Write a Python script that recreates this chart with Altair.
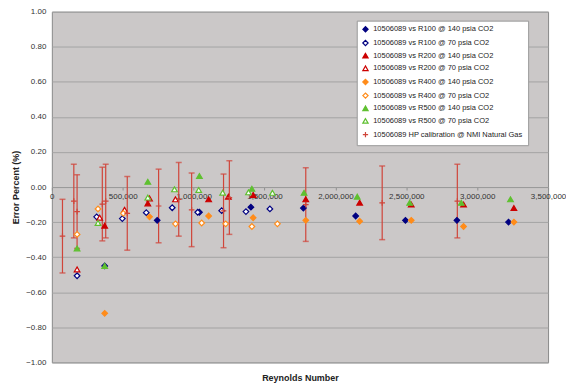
import altair as alt
import pandas as pd

series_names = [
    "10506089 vs R100 @ 140 psia CO2",
    "10506089 vs R100 @ 70 psia CO2",
    "10506089 vs R200 @ 140 psia CO2",
    "10506089 vs R200 @ 70 psia CO2",
    "10506089 vs R400 @ 140 psia CO2",
    "10506089 vs R400 @ 70 psia CO2",
    "10506089 vs R500 @ 140 psia CO2",
    "10506089 vs R500 @ 70 psia CO2",
    "10506089 HP calibration @ NMI Natural Gas",
]
stroke_colors = ["#000080", "#000080", "#cc0000", "#cc0000", "#ff8c1a", "#ff8c1a",
                 "#5fc030", "#5fc030", "#d0453a"]
fill_colors = ["#000080", "#ffffff", "#cc0000", "#ffffff", "#ff8c1a", "#ffffff",
               "#5fc030", "#ffffff", "transparent"]
shapes = ["diamond", "diamond", "triangle-up", "triangle-up", "diamond", "diamond",
          "triangle-up", "triangle-up", "M-1,0H1M0,-1V1"]

r100_140_re = [372700, 743000, 1041000, 1404000, 1774000, 2143000, 2494000, 2857000, 3221000]
r100_140_err = [-0.45, -0.19, -0.144, -0.115, -0.12, -0.165, -0.19, -0.19, -0.20]

r100_70_re = [178000, 316000, 497000, 666000, 849000, 1029000, 1198000, 1369000, 1538000]
r100_70_err = [-0.506, -0.17, -0.18, -0.146, -0.118, -0.144, -0.135, -0.14, -0.125]

r200_140_re = [372700, 677000, 1106000, 1245000, 1420000, 1791000, 2171000, 2535000, 2904000, 3259000]
r200_140_err = [-0.22, -0.093, -0.07, -0.055, -0.045, -0.07, -0.089, -0.10, -0.10, -0.12]

r200_70_re = [178000, 337500, 513000, 689000, 872000]
r200_70_err = [-0.47, -0.175, -0.13, -0.065, -0.07]

r400_140_re = [372700, 689000, 1106000, 1420000, 1791000, 2171000, 2535000, 2904000, 3259000]
r400_140_err = [-0.72, -0.17, -0.165, -0.175, -0.19, -0.195, -0.19, -0.225, -0.20]

r400_70_re = [178000, 325600, 504000, 872000, 1057000, 1226000, 1411000, 1591000]
r400_70_err = [-0.27, -0.125, -0.15, -0.21, -0.205, -0.21, -0.225, -0.21]

r500_140_re = [178000, 372700, 677000, 1041000, 1411000, 1779000, 2154000, 2524000, 2888000, 3235000]
r500_140_err = [-0.35, -0.45, 0.03, 0.0625, -0.01, -0.033, -0.055, -0.09, -0.09, -0.07]

r500_70_re = [325600, 677000, 865000, 1036000, 1205000, 1387000, 1556000]
r500_70_err = [-0.205, -0.06, -0.013, -0.017, -0.032, -0.03, -0.033]

nmi_re = [75000, 155000, 178000, 356000, 380000, 532000, 753000, 895000, 986000,
          1211000, 1252000, 1791000, 2330000, 2860000]
nmi_err = [-0.28, -0.08, -0.14, -0.097, -0.08, -0.15, -0.108, -0.07, -0.13,
           -0.136, -0.06, -0.10, -0.09, -0.08]
nmi_unc = [0.21, 0.21, 0.21, 0.21, 0.21, 0.21, 0.21, 0.21, 0.21,
           0.21, 0.21, 0.21, 0.21, 0.21]

x_ticks = [0, 500000, 1000000, 1500000, 2000000, 2500000, 3000000, 3500000]
y_ticks = [-1.0, -0.8, -0.6, -0.4, -0.2, 0.0, 0.2, 0.4, 0.6, 0.8, 1.0]

all_series = [
    (r100_140_re, r100_140_err), (r100_70_re, r100_70_err),
    (r200_140_re, r200_140_err), (r200_70_re, r200_70_err),
    (r400_140_re, r400_140_err), (r400_70_re, r400_70_err),
    (r500_140_re, r500_140_err), (r500_70_re, r500_70_err),
    (nmi_re, nmi_err),
]
rows = []
for name, (xs, ys) in zip(series_names, all_series):
    for xv, yv in zip(xs, ys):
        rows.append({"series": name, "re": xv, "err": yv})
pts = pd.DataFrame(rows)

bars = pd.DataFrame({
    "re": nmi_re,
    "lo": [e - u for e, u in zip(nmi_err, nmi_unc)],
    "hi": [e + u for e, u in zip(nmi_err, nmi_unc)],
})

FONT = "Liberation Sans"
W, H = 498, 352
bar_color = "#d0453a"

x_scale = alt.Scale(domain=[0, 3500000], nice=False)
y_scale = alt.Scale(domain=[-1, 1], nice=False)

x_axis = alt.Axis(values=x_ticks, format=",d", grid=False, offset=-H / 2,
                  labelFont=FONT, labelFontSize=8, labelColor="#333333",
                  ticks=True, tickSize=3, tickColor="#909090", labelPadding=3,
                  domainColor="#9a9a9a", labelFlush=False, labelOverlap=False,
                  title="Reynolds Number", titleFont=FONT, titleFontSize=9,
                  titleFontWeight="bold", titleColor="#222222",
                  titleX=W / 2, titleY=191, titleBaseline="middle", titleAnchor="middle")
y_axis = alt.Axis(values=y_ticks, tickCount=11, format=".2f", grid=True, gridColor="#a4a4a4",
                  gridWidth=1, domain=False, ticks=False, labelPadding=6,
                  labelOverlap=False,
                  labelFont=FONT, labelFontSize=8, labelColor="#333333",
                  title="Error Percent (%)", titleFont=FONT, titleFontSize=9,
                  titleFontWeight="bold", titleColor="#222222", titlePadding=5)

rule = alt.Chart(bars).mark_rule(color=bar_color, strokeWidth=1.2).encode(
    x=alt.X("re:Q", scale=x_scale, axis=x_axis),
    y=alt.Y("lo:Q", scale=y_scale, axis=y_axis),
    y2="hi:Q",
)
cap_hi = alt.Chart(bars).mark_tick(color=bar_color, orient="horizontal", size=6,
                                   thickness=1.5).encode(
    x=alt.X("re:Q", scale=x_scale, axis=x_axis),
    y=alt.Y("hi:Q", scale=y_scale, axis=y_axis))
cap_lo = alt.Chart(bars).mark_tick(color=bar_color, orient="horizontal", size=6,
                                   thickness=1.5).encode(
    x=alt.X("re:Q", scale=x_scale, axis=x_axis),
    y=alt.Y("lo:Q", scale=y_scale, axis=y_axis))

points = alt.Chart(pts).mark_point(opacity=1, strokeWidth=1.2, size=32).encode(
    x=alt.X("re:Q", scale=x_scale, axis=x_axis),
    y=alt.Y("err:Q", scale=y_scale, axis=y_axis),
    shape=alt.Shape("series:N", scale=alt.Scale(domain=series_names, range=shapes),
                    legend=alt.Legend(title=None)),
    fill=alt.Fill("series:N", scale=alt.Scale(domain=series_names, range=fill_colors),
                  legend=alt.Legend(title=None)),
    stroke=alt.Stroke("series:N", scale=alt.Scale(domain=series_names, range=stroke_colors),
                      legend=alt.Legend(title=None)),
)

chart = alt.layer(rule, cap_hi, cap_lo, points).properties(
    width=W, height=H,
    autosize=alt.AutoSizeParams(type="none"),
    padding={"left": 44, "top": 3, "right": 18, "bottom": 22},
).configure_view(
    fill="#cbc8c8", stroke="#8a8a8a", strokeWidth=1
).configure_legend(
    orient="none", legendX=306, legendY=9, fillColor="#ffffff",
    strokeColor="#9a9a9a", padding=5, labelFont=FONT, labelFontSize=7.5,
    labelColor="#222222", symbolSize=28, symbolStrokeWidth=1.2, rowPadding=2.7,
    labelLimit=400, symbolOffset=0, labelOffset=4,
)

chart.save("out.html", embed_options={"renderer": "svg", "actions": False})
